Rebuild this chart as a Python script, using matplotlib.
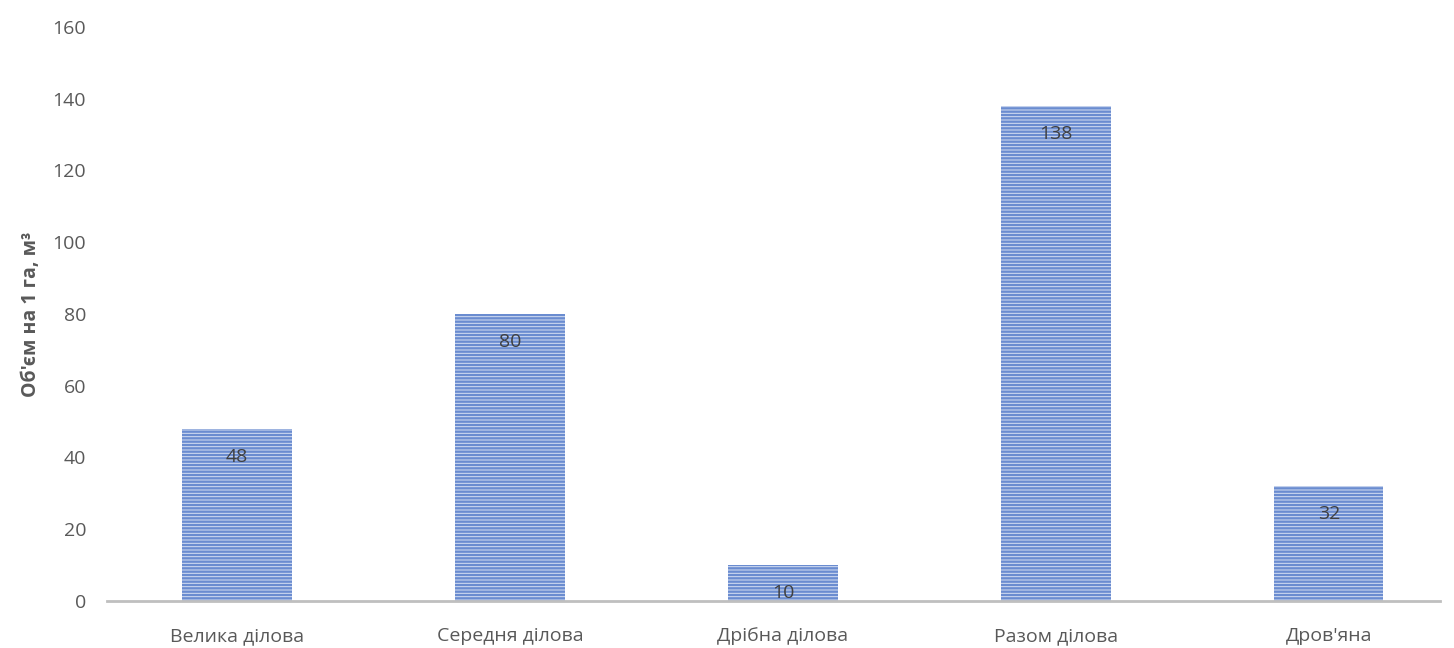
import matplotlib.pyplot as plt
import numpy as np

categories = ["Велика ділова", "Середня ділова", "Дрібна ділова", "Разом ділова", "Дров'яна"]
values = [48, 80, 10, 138, 32]
yticks = [0, 20, 40, 60, 80, 100, 120, 140, 160]

plt.rcParams['font.family'] = ['Open Sans', 'DejaVu Sans']
plt.rcParams['hatch.linewidth'] = 1.7

fig = plt.figure(figsize=(14.54, 6.48), dpi=100)
ax = fig.add_axes([107 / 1454, 1 - 601 / 648, (1440 - 107) / 1454, (601 - 27) / 648])

x = np.arange(len(categories))
bars = ax.bar(x, values, width=0.4, color='#D6E0F3', edgecolor='#6A8CD0',
              linewidth=0, hatch='-----', zorder=2)

for xi, v in zip(x, values):
    ax.annotate(str(v), (xi, v), xytext=(0, -20), textcoords='offset points',
                ha='center', va='center', fontsize=14, color='#404040', zorder=3)

ax.set_xlim(-0.476, 4.407)
ax.set_ylim(0, 160)
ax.set_yticks(yticks)
ax.set_xticks(x)
ax.set_xticklabels(categories)
ax.tick_params(axis='both', length=0, labelsize=14, labelcolor='#595959')
ax.tick_params(axis='x', pad=19)
ax.tick_params(axis='y', pad=15)

for s in ['top', 'right', 'left']:
    ax.spines[s].set_visible(False)
ax.spines['bottom'].set_color('#BFBFBF')
ax.spines['bottom'].set_linewidth(2)

ax.set_ylabel("Об'єм на 1 га, м³", fontsize=14, fontweight='bold', color='#595959', labelpad=8)

fig.savefig('out.png', dpi=100)
